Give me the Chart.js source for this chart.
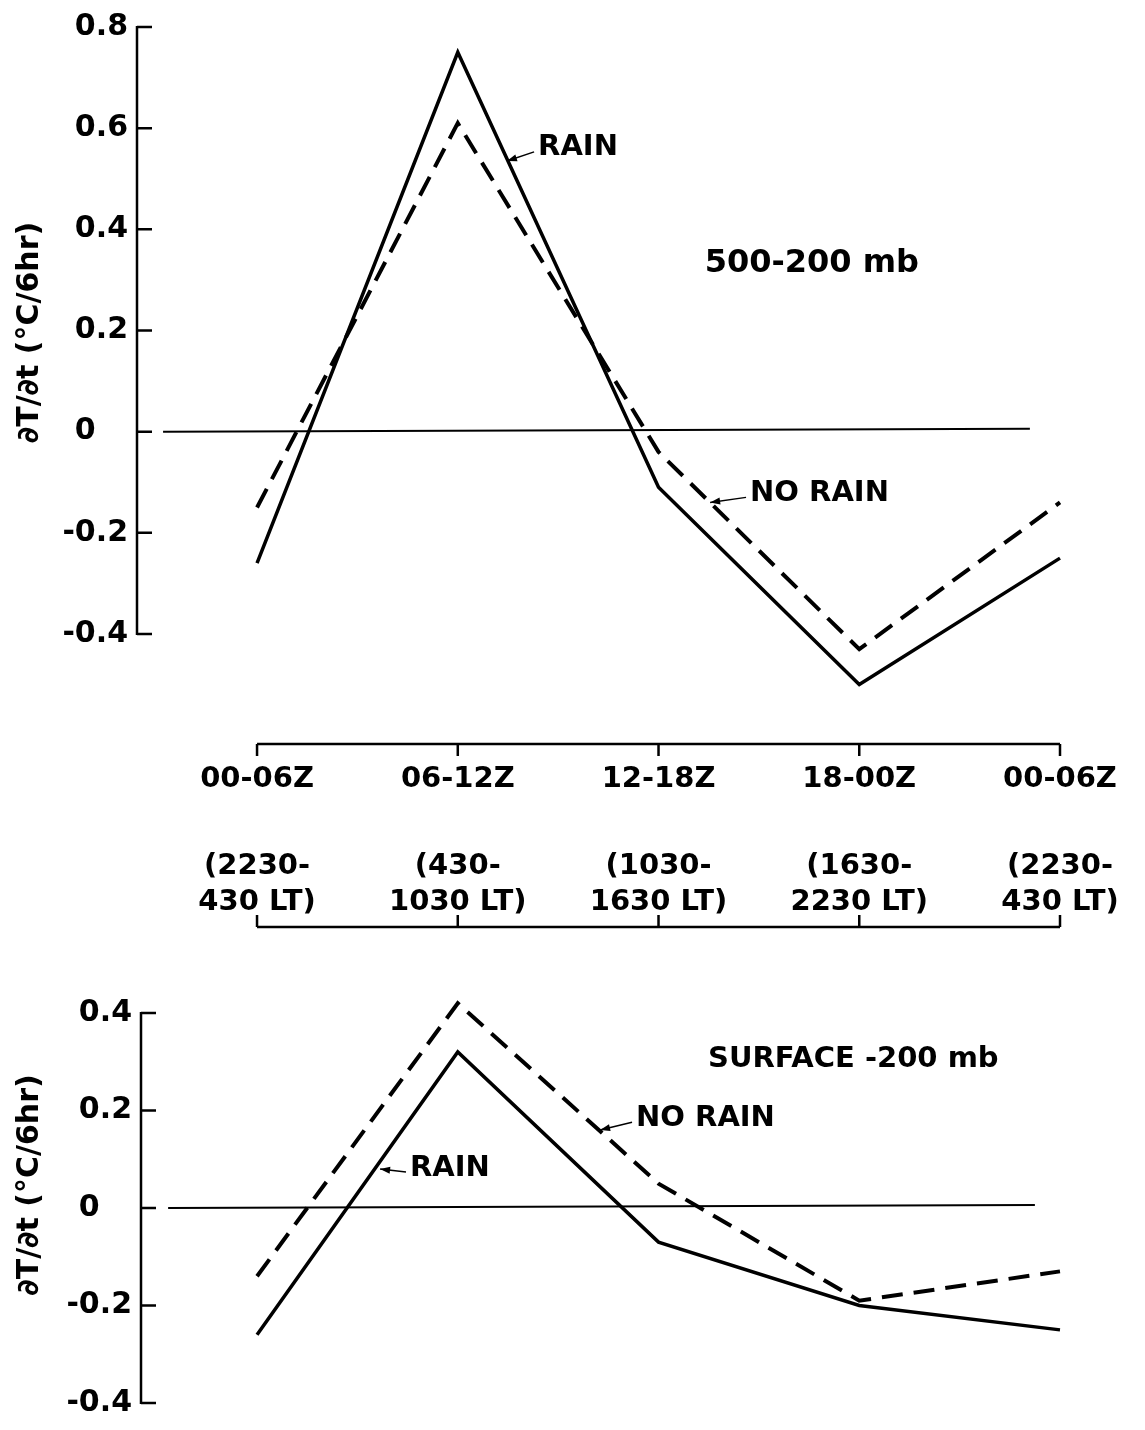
<!DOCTYPE html>
<html>
<head>
<meta charset="utf-8">
<script src="https://cdn.jsdelivr.net/npm/chart.js@4.4.1/dist/chart.umd.min.js"></script>
<style>
  body { margin: 0; background: #fff; }
  #wrap { position: relative; width: 1145px; height: 1430px; background: #fff; }
  canvas { position: absolute; left: 0; }
</style>
</head>
<body>
<div id="wrap">
  <canvas id="upper" width="1145" height="960" style="top:0"></canvas>
  <canvas id="deep" width="1145" height="530" style="top:900px"></canvas>
</div>
<script>
// categories
const periodsZ = ['00-06Z', '06-12Z', '12-18Z', '18-00Z', '00-06Z']
const periodsLT = [['(2230-', '430 LT)'], ['(430-', '1030 LT)'], ['(1030-', '1630 LT)'], ['(1630-', '2230 LT)'], ['(2230-', '430 LT)']]

// 500-200 mb layer
const upperRain = [-0.26, 0.75, -0.11, -0.50, -0.25]
const upperNoRain = [-0.15, 0.61, -0.04, -0.43, -0.14]
// surface-200 mb layer
const deepRain = [-0.26, 0.32, -0.07, -0.20, -0.25]
const deepNoRain = [-0.14, 0.42, 0.05, -0.19, -0.13]

// tick labels
const upperTicks = [0.8, 0.6, 0.4, 0.2, 0, -0.2, -0.4]
const deepTicks = [0.4, 0.2, 0, -0.2, -0.4]

const yTitle = '\u2202T/\u2202t (\u00b0C/6hr)'
const FONT = 'DejaVu Sans'

const pts = arr => arr.map((v, i) => ({ x: i, y: v }))

function tickLabel(v) {
    if (v === 0) return '0\u2008\u2007'
    return v.toFixed(1)
}

// axes, zero line, brackets, notes, titles
const decor = {
    id: 'decor',
    afterDraw(chart, args, o) {
        const ctx = chart.ctx, xa = chart.scales.x, ya = chart.scales.y
        const area = chart.chartArea
        ctx.save()
        ctx.strokeStyle = '#000'
        ctx.fillStyle = '#000'
        ctx.lineCap = 'butt'

        // y axis with inward ticks
        ctx.lineWidth = 2.5
        ctx.beginPath()
        ctx.moveTo(area.left, ya.getPixelForValue(ya.max) - 1)
        ctx.lineTo(area.left, ya.getPixelForValue(ya.min) + 1)
        ya.ticks.forEach(t => {
            const py = ya.getPixelForValue(t.value)
            ctx.moveTo(area.left, py)
            ctx.lineTo(area.left + 15, py)
        })
        ctx.stroke()

        // zero line
        ctx.lineWidth = 2
        ctx.beginPath()
        const y0 = ya.getPixelForValue(0)
        ctx.moveTo(xa.getPixelForValue(o.zeroFrom), y0)
        ctx.lineTo(xa.getPixelForValue(o.zeroTo), y0 - 3)
        ctx.stroke()

        // category bracket
        const by = o.bracketFromTop ? area.top + o.bracketOffset : area.bottom + o.bracketOffset
        ctx.lineWidth = 2.5
        ctx.beginPath()
        ctx.moveTo(xa.getPixelForValue(0), by)
        ctx.lineTo(xa.getPixelForValue(periodsZ.length - 1), by)
        periodsZ.forEach((p, i) => {
            const px = xa.getPixelForValue(i)
            ctx.moveTo(px, by)
            ctx.lineTo(px, by + o.bracketDir * 12)
        })
        ctx.stroke()

        // notes and arrows
        o.notes.forEach(n => {
            const tx = xa.getPixelForValue(n.x), ty = ya.getPixelForValue(n.y)
            ctx.font = 'bold ' + n.size + 'px "' + FONT + '"'
            ctx.textAlign = 'left'
            ctx.textBaseline = 'middle'
            ctx.fillText(n.text, tx, ty)
            if (n.tip) {
                const ax = xa.getPixelForValue(n.tip[0]), ay = ya.getPixelForValue(n.tip[1])
                const sx = tx - 4, sy = ty + 4
                const ang = Math.atan2(ay - sy, ax - sx)
                ctx.lineWidth = 1.5
                ctx.beginPath()
                ctx.moveTo(sx, sy)
                ctx.lineTo(ax, ay)
                ctx.stroke()
                ctx.beginPath()
                ctx.moveTo(ax, ay)
                ctx.lineTo(ax - 10 * Math.cos(ang) + 3.5 * Math.sin(ang), ay - 10 * Math.sin(ang) - 3.5 * Math.cos(ang))
                ctx.lineTo(ax - 10 * Math.cos(ang) - 3.5 * Math.sin(ang), ay - 10 * Math.sin(ang) + 3.5 * Math.cos(ang))
                ctx.closePath()
                ctx.fill()
            }
        })

        // rotated y title
        ctx.font = 'bold 30px "' + FONT + '"'
        ctx.textAlign = 'center'
        ctx.textBaseline = 'middle'
        ctx.translate(30, (area.top + area.bottom) / 2 + o.titleShift)
        ctx.rotate(-Math.PI / 2)
        ctx.fillText(yTitle, 0, 0)
        ctx.restore()
    }
}

function lineSets(rain, noRain) {
    return [
        {
            label: 'RAIN',
            data: pts(rain),
            borderColor: '#000',
            borderWidth: 3.5,
            borderJoinStyle: 'miter',
            pointRadius: 0,
            fill: false,
            tension: 0,
            clip: false
        },
        {
            label: 'NO RAIN',
            data: pts(noRain),
            borderColor: '#000',
            borderWidth: 4,
            borderDash: [21, 11],
            borderJoinStyle: 'miter',
            pointRadius: 0,
            fill: false,
            tension: 0,
            clip: false
        }
    ]
}

function yScale(ticks, width) {
    return {
        type: 'linear',
        min: ticks[ticks.length - 1],
        max: ticks[0],
        afterBuildTicks: s => { s.ticks = ticks.map(v => ({ value: v })) },
        afterFit: s => { s.width = width },
        grid: { display: false, drawTicks: false },
        border: { display: false },
        ticks: {
            padding: 9,
            color: '#000',
            font: { family: FONT, size: 30, weight: 'bold' },
            callback: v => tickLabel(v)
        }
    }
}

function xScale(left, height, extra) {
    return Object.assign({
        type: 'linear',
        min: left,
        max: periodsZ.length - 1,
        afterBuildTicks: s => { s.ticks = periodsZ.map((p, i) => ({ value: i })) },
        afterFit: s => {
            s.height = height
            s.paddingLeft = 0
            s.paddingRight = 0
        },
        grid: { display: false, drawTicks: false },
        border: { display: false }
    }, extra)
}

const common = {
    responsive: false,
    animation: false,
    devicePixelRatio: 1,
    events: []
}

// upper panel: 500-200 mb
new Chart(document.getElementById('upper').getContext('2d'), {
    type: 'line',
    data: { datasets: lineSets(upperRain, upperNoRain) },
    plugins: [decor],
    options: Object.assign({}, common, {
        layout: { padding: { left: 0, right: 85, top: 22, bottom: 0 } },
        scales: {
            x: xScale(-0.598, 190, {
                ticks: {
                    autoSkip: false, maxRotation: 0, padding: 128, color: '#000',
                    font: { family: FONT, size: 29, weight: 'bold' },
                    callback: (v, i) => periodsZ[i]
                }
            }),
            x2: xScale(-0.598, 136, {
                position: 'bottom',
                ticks: {
                    autoSkip: false, maxRotation: 0, padding: 24, color: '#000',
                    font: { family: FONT, size: 29, weight: 'bold', lineHeight: '36px' },
                    callback: (v, i) => periodsLT[i]
                }
            }),
            y: yScale(upperTicks, 137)
        },
        plugins: {
            legend: { display: false },
            tooltip: { enabled: false },
            decor: {
                zeroFrom: -0.468, zeroTo: 3.85,
                bracketFromTop: false, bracketOffset: 110, bracketDir: 1,
                titleShift: 2,
                notes: [
                    { text: 'RAIN', x: 1.40, y: 0.561, size: 29, tip: [1.245, 0.535] },
                    { text: '500-200 mb', x: 2.23, y: 0.333, size: 32 },
                    { text: 'NO RAIN', x: 2.456, y: -0.122, size: 29, tip: [2.257, -0.14] }
                ]
            }
        }
    })
})

// lower panel: surface-200 mb
new Chart(document.getElementById('deep').getContext('2d'), {
    type: 'line',
    data: { datasets: lineSets(deepRain, deepNoRain) },
    plugins: [decor],
    options: Object.assign({}, common, {
        layout: { padding: { left: 0, right: 85, top: 113, bottom: 16 } },
        scales: {
            x: xScale(-0.578, 0, { display: false }),
            y: yScale(deepTicks, 141)
        },
        plugins: {
            legend: { display: false },
            tooltip: { enabled: false },
            decor: {
                zeroFrom: -0.443, zeroTo: 3.875,
                bracketFromTop: true, bracketOffset: -86, bracketDir: -1,
                titleShift: -23,
                notes: [
                    { text: 'SURFACE -200 mb', x: 2.247, y: 0.305, size: 29 },
                    { text: 'NO RAIN', x: 1.888, y: 0.184, size: 29, tip: [1.709, 0.16] },
                    { text: 'RAIN', x: 0.762, y: 0.082, size: 29, tip: [0.613, 0.08] }
                ]
            }
        }
    })
})
</script>
</body>
</html>
